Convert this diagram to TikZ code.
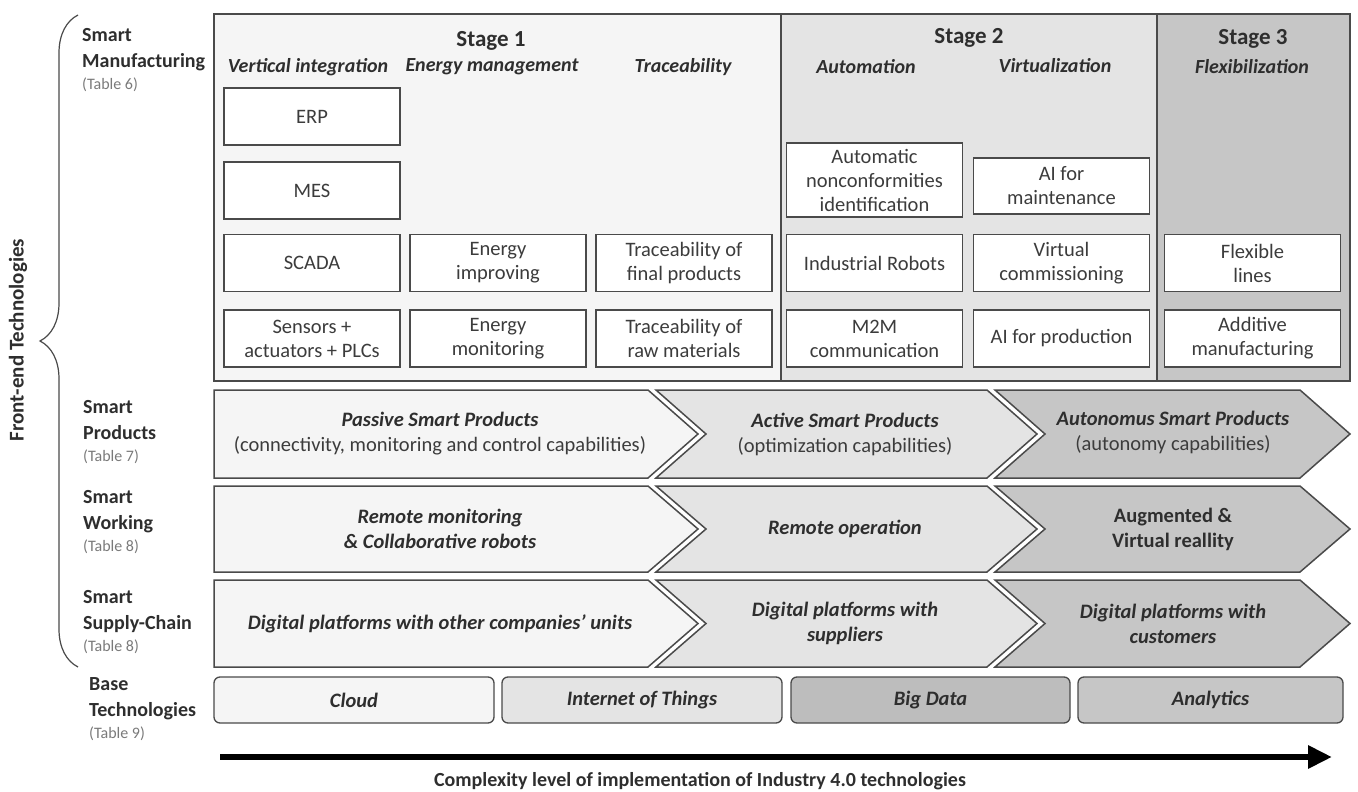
\documentclass[tikz,border=0pt]{standalone}
\usepackage{fontspec}
\setmainfont{Carlito}
\usetikzlibrary{arrows.meta,decorations.pathreplacing}

\definecolor{txtgray}{HTML}{2E2E2E}
\definecolor{boxtxt}{HTML}{3C3C3C}
\definecolor{linegray}{HTML}{4A4A4A}
\definecolor{tabgray}{HTML}{7A7A7A}
\definecolor{fillA}{HTML}{F5F5F5}
\definecolor{fillB}{HTML}{E4E4E4}
\definecolor{fillC}{HTML}{C6C6C6}
\definecolor{fillD}{HTML}{BDBDBD}

\tikzset{
  techbox/.style={draw=linegray, line width=1.3pt, fill=white, minimum width=176pt,
    minimum height=57pt, align=center, inner sep=0pt, text=boxtxt,
    font=\fontsize{20.5}{24}\selectfont},
  colhead/.style={font=\fontsize{20}{24}\selectfont\bfseries\itshape, text=txtgray},
  stagehead/.style={font=\fontsize{23}{27}\selectfont\bfseries, text=txtgray},
  rowlabel/.style={anchor=north west, align=left, inner sep=0pt, text=txtgray,
    font=\fontsize{20}{26}\selectfont\bfseries},
  chev/.style={draw=linegray, line width=1.5pt, line join=miter},
  chevtext/.style={align=center, text=txtgray, font=\fontsize{20.5}{25}\selectfont\bfseries\itshape},
  basebox/.style={draw=linegray, line width=1.3pt, rounded corners=6pt, minimum height=46pt,
    inner sep=0pt, text=txtgray, font=\fontsize{20.5}{24}\selectfont\bfseries\itshape},
}

\newcommand{\tabref}[1]{\\[-4pt]{\mdseries\fontsize{16}{20}\selectfont\color{tabgray}(Table #1)}}

\begin{document}
\begin{tikzpicture}[x=1pt, y=-1pt]

  \useasboundingbox (0,0) rectangle (1358,792);

  % stages
  \draw[draw=linegray, line width=1.5pt, fill=fillA] (214,14) rectangle (781,381);
  \draw[draw=linegray, line width=1.5pt, fill=fillB] (781,14) rectangle (1157,381);
  \draw[draw=linegray, line width=1.5pt, fill=fillC] (1157,14) rectangle (1350,381);

  \node[stagehead] (stageA) at (491,41) {Stage 1};
  \node[stagehead] (stageB) at (969,38) {Stage 2};
  \node[stagehead] (stageC) at (1253,39) {Stage 3};

  \node[colhead] (vertint) at (308,67) {Vertical integration};
  \node[colhead] (energy) at (492,67) {Energy management};
  \node[colhead] (trace) at (683,67) {Traceability};
  \node[colhead] (autom) at (866,67) {Automation};
  \node[colhead] (virt) at (1055,66) {Virtualization};
  \node[colhead] (flexib) at (1252,67) {Flexibilization};

  \node[techbox] (erp) at (312,116.5) {ERP};
  \node[techbox] (mes) at (312,190.5) {MES};
  \node[techbox] (scada) at (312,263) {SCADA};
  \node[techbox] (sensors) at (312,338.5) {Sensors +\\actuators + PLCs};

  \node[techbox] (enimp) at (498,263) {Energy\\improving};
  \node[techbox] (enmon) at (498,338.5) {Energy\\monitoring};

  \node[techbox] (trfinal) at (684,263) {Traceability of\\final products};
  \node[techbox] (trraw) at (684,338.5) {Traceability of\\raw materials};

  \node[techbox, minimum height=74pt] (nonconf) at (874.5,180) {Automatic\\nonconformities\\identification};
  \node[techbox] (robots) at (874.5,263) {Industrial Robots};
  \node[techbox] (mtom) at (874.5,338.5) {M2M\\communication};

  \node[techbox, minimum height=56pt] (aimaint) at (1061.5,186) {AI for\\maintenance};
  \node[techbox] (vcomm) at (1061.5,263) {Virtual\\commissioning};
  \node[techbox] (aiprod) at (1061.5,338.5) {AI for production};

  \node[techbox] (flexlines) at (1252.5,263) {Flexible\\lines};
  \node[techbox] (additive) at (1252.5,338.5) {Additive\\manufacturing};

  % chevron rows
  \draw[chev, fill=fillA] (214,390) -- (648,390) -- (698,434) -- (648,478) -- (214,478) -- cycle;
  \draw[chev, fill=fillB] (656,390) -- (987,390) -- (1037,434) -- (987,478) -- (656,478) -- (706,434) -- cycle;
  \draw[chev, fill=fillC] (995,390) -- (1300,390) -- (1350,434) -- (1300,478) -- (995,478) -- (1045,434) -- cycle;

  \draw[chev, fill=fillA] (214,486) -- (648,486) -- (698,529) -- (648,572) -- (214,572) -- cycle;
  \draw[chev, fill=fillB] (656,486) -- (987,486) -- (1037,529) -- (987,572) -- (656,572) -- (706,529) -- cycle;
  \draw[chev, fill=fillC] (995,486) -- (1300,486) -- (1350,529) -- (1300,572) -- (995,572) -- (1045,529) -- cycle;

  \draw[chev, fill=fillA] (214,580) -- (648,580) -- (698,623.5) -- (648,667) -- (214,667) -- cycle;
  \draw[chev, fill=fillB] (656,580) -- (987,580) -- (1037,623.5) -- (987,667) -- (656,667) -- (706,623.5) -- cycle;
  \draw[chev, fill=fillC] (995,580) -- (1300,580) -- (1350,623.5) -- (1300,667) -- (995,667) -- (1045,623.5) -- cycle;

  \node[chevtext] (prodA) at (440,434) {Passive Smart Products\\{\mdseries\upshape\color{boxtxt} (connectivity, monitoring and control capabilities)}};
  \node[chevtext] (prodB) at (845,434) {Active Smart Products\\{\mdseries\upshape\color{boxtxt} (optimization capabilities)}};
  \node[chevtext] (prodC) at (1173,432) {Autonomus Smart Products\\{\mdseries\upshape\color{boxtxt} (autonomy capabilities)}};

  \node[chevtext] (workA) at (440,529) {Remote monitoring\\\& Collaborative robots};
  \node[chevtext] (workB) at (845,529) {Remote operation};
  \node[chevtext, font=\fontsize{20.5}{25}\selectfont\bfseries] (workC) at (1173,529) {Augmented \&\\Virtual reallity};

  \node[chevtext] (supA) at (440,623.5) {Digital platforms with other companies’ units};
  \node[chevtext] (supB) at (845,623.5) {Digital platforms with\\suppliers};
  \node[chevtext] (supC) at (1173,623.5) {Digital platforms with\\customers};

  % base technologies
  \node[basebox, fill=fillA, minimum width=280pt] (cloud) at (354,700) {Cloud};
  \node[basebox, fill=fillB, minimum width=280pt] (iot) at (642,700) {Internet of Things};
  \node[basebox, fill=fillD, minimum width=279pt] (bigdata) at (930.5,700) {Big Data};
  \node[basebox, fill=fillC, minimum width=265pt] (analytics) at (1210.5,700) {Analytics};

  % row labels
  \node[rowlabel] (lblman) at (82,28) {Smart\\Manufacturing\tabref{6}};
  \node[rowlabel] (lblprod) at (83,400) {Smart\\Products\tabref{7}};
  \node[rowlabel] (lblwork) at (83,490) {Smart\\Working\tabref{8}};
  \node[rowlabel] (lblsup) at (83,590) {Smart\\Supply-Chain\tabref{8}};
  \node[rowlabel] (lblbase) at (89,677) {Base\\Technologies\tabref{9}};

  \draw[decorate, decoration={brace, amplitude=38pt}, draw=linegray, line width=1.2pt] (78,667) -- (78,15);
  \node[rotate=90, text=txtgray, font=\fontsize{21}{24}\selectfont\bfseries] (frontend) at (18,340) {Front-end Technologies};

  % complexity arrow
  \coordinate (arrstart) at (220,757);
  \coordinate (arrend) at (1332,757);
  \draw[line width=6pt, -{Triangle[length=24pt, width=22pt]}] (arrstart) -- (arrend);
  \node[text=txtgray, font=\fontsize{20}{24}\selectfont\bfseries] (complexity) at (700,781) {Complexity level of implementation of Industry 4.0 technologies};

\end{tikzpicture}
\end{document}
